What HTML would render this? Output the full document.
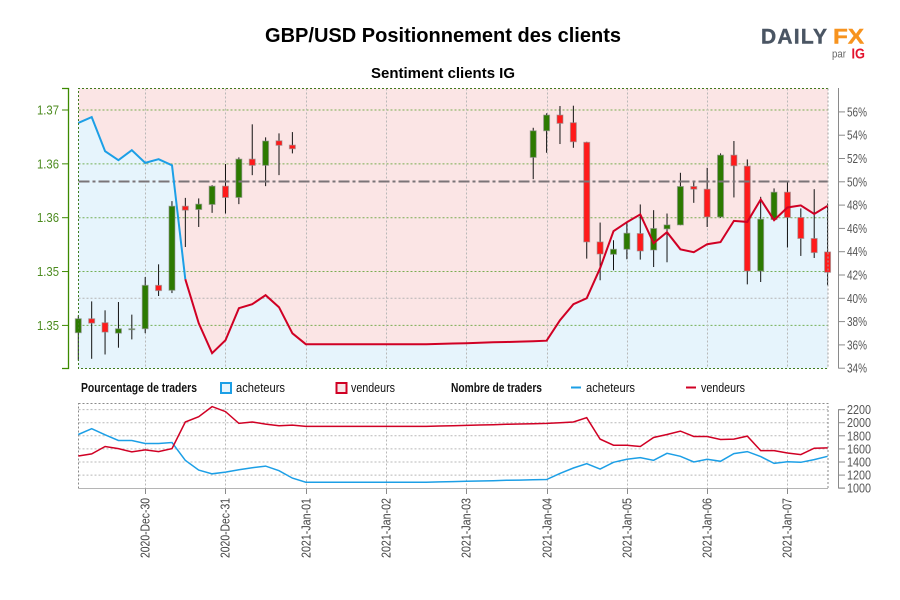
<!DOCTYPE html>
<html lang="fr">
<head>
<meta charset="utf-8">
<title>GBP/USD Positionnement des clients</title>
<style>
html,body{margin:0;padding:0;background:#fff;width:900px;height:600px;overflow:hidden}
svg{display:block}
text{font-family:"Liberation Sans",sans-serif}
</style>
</head>
<body>
<svg id="chart" xmlns="http://www.w3.org/2000/svg" width="900" height="600" viewBox="0 0 900 600">
  <rect x="0" y="0" width="900" height="600" fill="#ffffff"/>
  <text x="443" y="42" text-anchor="middle" font-size="20" font-weight="bold" fill="#000" textLength="356" lengthAdjust="spacingAndGlyphs">GBP/USD Positionnement des clients</text>
  <text x="443" y="78" text-anchor="middle" font-size="15" font-weight="bold" fill="#000" textLength="144" lengthAdjust="spacingAndGlyphs">Sentiment clients IG</text>

  <g>
    <text x="761" y="43.5" font-size="21" font-weight="bold" fill="#4a5563" stroke="#4a5563" stroke-width="0.4" textLength="66" lengthAdjust="spacing">DAILY</text>
    <text x="833" y="43.5" font-size="21" font-weight="bold" fill="#f7931e" stroke="#f7931e" stroke-width="0.4" textLength="31" lengthAdjust="spacingAndGlyphs">FX</text>
    <text x="832" y="57.5" font-size="11" fill="#666" textLength="14" lengthAdjust="spacingAndGlyphs">par</text>
    <text x="851.5" y="58.5" font-size="15" font-weight="bold" fill="#e3122d" textLength="13.5" lengthAdjust="spacingAndGlyphs">IG</text>
  </g>

  <rect x="78.5" y="88.5" width="749.5" height="280" fill="#fbe5e5"/>
  <polygon id="buyerArea" fill="#e6f4fc"/>
  <g id="gridTop"></g>
  <g id="candles"></g>
  <line x1="78.5" x2="828" y1="181.5" y2="181.5" stroke="#7a7477" stroke-width="2" stroke-dasharray="11 3 3 3"/>
  <g id="sentimentLines"></g>
  <path d="M828 88.5H78.5V368.5H828" fill="none" stroke="#3f7a1c" stroke-width="1" stroke-dasharray="2 2"/>
  <line x1="828" x2="828" y1="88.5" y2="368.5" stroke="#a0a0a0" stroke-width="1" stroke-dasharray="2 2"/>

  <g id="axisLeft">
    <path d="M62 88.5H68.5V368.5H62" fill="none" stroke="#3c8a00" stroke-width="1.3"/>
  </g>
  <g id="axisRight">
    <line x1="838.5" x2="838.5" y1="88" y2="368.5" stroke="#8a8a8a" stroke-width="1"/>
  </g>

  <g font-size="12.5" fill="#111">
    <text x="81" y="392" font-weight="bold" textLength="116" lengthAdjust="spacingAndGlyphs">Pourcentage de traders</text>
    <rect x="221" y="383" width="10" height="10" fill="#e6f4fc" stroke="#1c9fe6" stroke-width="2"/>
    <text x="236" y="392" textLength="49" lengthAdjust="spacingAndGlyphs">acheteurs</text>
    <rect x="336.5" y="383" width="10" height="10" fill="#f8e6e8" stroke="#d00024" stroke-width="2"/>
    <text x="351" y="392" textLength="44" lengthAdjust="spacingAndGlyphs">vendeurs</text>
    <text x="451" y="392" font-weight="bold" textLength="91" lengthAdjust="spacingAndGlyphs">Nombre de traders</text>
    <line x1="571" x2="581" y1="387.5" y2="387.5" stroke="#1c9fe6" stroke-width="2"/>
    <text x="586" y="392" textLength="49" lengthAdjust="spacingAndGlyphs">acheteurs</text>
    <line x1="686" x2="696" y1="387.5" y2="387.5" stroke="#d00024" stroke-width="2"/>
    <text x="701" y="392" textLength="44" lengthAdjust="spacingAndGlyphs">vendeurs</text>
  </g>

  <g id="gridBottom"></g>
  <rect x="78.5" y="403.5" width="749.5" height="85" fill="none" stroke="#8a8a8a" stroke-width="1" stroke-dasharray="2 2"/>
  <line x1="78.5" x2="828" y1="488.5" y2="488.5" stroke="#b5b5b5" stroke-width="1"/>
  <g id="countLines"></g>
  <g id="axisCount">
    <path d="M845 409.7H838.5V488H845" fill="none" stroke="#8a8a8a" stroke-width="1"/>
  </g>
  <g id="axisDate"></g>
</svg>

<script>
var dateLabels = ["2020-Dec-30","2020-Dec-31","2021-Jan-01","2021-Jan-02","2021-Jan-03","2021-Jan-04","2021-Jan-05","2021-Jan-06","2021-Jan-07"];
var priceTicks = [1.35,1.355,1.36,1.365,1.37];
var priceTickLabels = ["1.35","1.35","1.36","1.36","1.37"];
var percentTicks = [34,36,38,40,42,44,46,48,50,52,54,56];
var countTicks = [1000,1200,1400,1600,1800,2000,2200];

var sentiment = [55.06,55.55,52.63,51.85,52.71,51.62,51.94,51.42,41.64,37.86,35.29,36.40,39.15,39.49,40.27,39.24,37.00,36.06,36.06,36.06,36.06,36.06,36.06,36.06,36.06,36.06,36.06,36.09,36.12,36.15,36.18,36.22,36.25,36.28,36.32,36.36,38.12,39.49,40.00,42.58,45.76,46.53,47.20,44.73,45.67,44.21,43.96,44.64,44.82,46.64,46.56,48.48,46.70,47.79,47.97,47.24,47.93];

var buyersCount = [1820,1908,1815,1728,1728,1682,1682,1697,1426,1277,1220,1246,1282,1313,1338,1267,1154,1092,1092,1092,1092,1092,1092,1092,1092,1092,1092,1096,1101,1106,1110,1115,1120,1124,1129,1133,1226,1308,1374,1292,1395,1441,1467,1426,1533,1487,1400,1441,1410,1528,1559,1482,1379,1405,1395,1436,1487];
var sellersCount = [1492,1523,1636,1605,1554,1585,1559,1605,2010,2092,2246,2169,1990,2010,1979,1954,1964,1944,1944,1944,1944,1944,1944,1944,1944,1944,1944,1949,1954,1959,1965,1970,1975,1980,1985,1990,2000,2010,2077,1749,1656,1656,1636,1774,1820,1872,1790,1790,1744,1749,1795,1574,1574,1538,1513,1610,1615];

var candleIndex = [0,1,2,3,4,5,6,7,8,9,10,11,12,13,14,15,16,34,35,36,37,38,39,40,41,42,43,44,45,46,47,48,49,50,51,52,53,54,55,56];
var opens = [1.34932,1.35062,1.35025,1.34928,1.3496,1.34969,1.35372,1.35326,1.36107,1.36076,1.36123,1.36293,1.36188,1.36544,1.36486,1.36714,1.36674,1.3656,1.36807,1.36953,1.36882,1.367,1.35775,1.3566,1.35707,1.35853,1.357,1.35896,1.35933,1.3629,1.36265,1.36007,1.36581,1.36479,1.35505,1.35983,1.36237,1.36002,1.35807,1.35682];
var highs = [1.35093,1.35223,1.3514,1.35217,1.351,1.35449,1.35567,1.36154,1.36184,1.36179,1.36302,1.36498,1.3656,1.36867,1.36746,1.36783,1.36795,1.36835,1.36969,1.37037,1.3704,1.36705,1.35955,1.35791,1.35961,1.36123,1.3607,1.36039,1.36417,1.36342,1.36463,1.36597,1.36712,1.36541,1.36194,1.36272,1.36333,1.36086,1.36265,1.36132];
var lows = [1.34674,1.3469,1.3473,1.34793,1.3487,1.34928,1.35273,1.353,1.35728,1.35914,1.36045,1.36039,1.36126,1.36395,1.36293,1.36395,1.36597,1.36358,1.36603,1.36684,1.36649,1.3562,1.35419,1.35512,1.35614,1.35611,1.35542,1.35586,1.3593,1.36138,1.35914,1.35998,1.36188,1.35381,1.35403,1.35977,1.35723,1.35645,1.35626,1.35372];
var closes = [1.35062,1.35021,1.34938,1.34969,1.34969,1.35372,1.35323,1.36107,1.3607,1.36126,1.36293,1.36188,1.36544,1.36486,1.36712,1.36672,1.3664,1.36807,1.36953,1.36876,1.36705,1.35775,1.35663,1.35707,1.35856,1.35691,1.359,1.35933,1.3629,1.36265,1.36007,1.36581,1.36482,1.35505,1.35986,1.36237,1.36002,1.35807,1.35676,1.35493];

var NS = "http://www.w3.org/2000/svg";
function xAt(i){ return 78.3 + i * 13.38; }
function yPrice(p){ return 110 + (1.37 - p) * 10770; }
function yPercent(p){ return 368.2 - (p - 34) * 11.65; }
function yCount(v){ return 488.2 - (v - 1000) * 0.0655; }

function make(parent, tag, attrs){
  var el = document.createElementNS(NS, tag);
  for (var k in attrs) el.setAttribute(k, attrs[k]);
  parent.appendChild(el);
  return el;
}
function pts(values, yFn, from, to){
  var out = [];
  for (var i = from; i <= to; i++) out.push(xAt(i).toFixed(1) + "," + yFn(values[i]).toFixed(1));
  return out.join(" ");
}
function g(id){ return document.getElementById(id); }

/* area under the sentiment line */
var lastI = sentiment.length - 1;
g("buyerArea").setAttribute("points", xAt(0).toFixed(1) + ",368.5 " + pts(sentiment, yPercent, 0, lastI) + " " + xAt(lastI).toFixed(1) + ",368.5");

/* top panel grid */
priceTicks.forEach(function(p){
  var y = yPrice(p);
  var ln = make(g("gridTop"), "line", {x1:78.5, x2:828, y1:y, y2:y, stroke:"#4f9a1f", "stroke-width":1, "stroke-dasharray":"2 2", "stroke-opacity":0.75});
  
  
  var tk = make(g("axisLeft"), "line", {x1:62, x2:68.5, y1:y, y2:y, stroke:"#3c8a00", "stroke-width":1});
  
  
});
priceTickLabels.forEach(function(s, i){
  var t = make(g("axisLeft"), "text", {x:59, y:yPrice(priceTicks[i]) + 4.5, "text-anchor":"end", "font-size":13, fill:"#4b8a1e", textLength:22, lengthAdjust:"spacingAndGlyphs"});
  t.textContent = s;
  
  
});

var pctGrid = make(g("gridTop"), "line", {x1:78.5, x2:828, y1:yPercent(40), y2:yPercent(40), stroke:"#b4b4b4", "stroke-width":1, "stroke-dasharray":"2 2"});



percentTicks.forEach(function(p){
  var y = yPercent(p);
  var tk = make(g("axisRight"), "line", {x1:838.5, x2:845, y1:y, y2:y, stroke:"#8a8a8a", "stroke-width":1});
  
  
  var t = make(g("axisRight"), "text", {x:847, y:y + 4.5, "font-size":13, fill:"#555", textLength:20, lengthAdjust:"spacingAndGlyphs"});
  t.textContent = p + "%";
  
  
});

/* vertical date grid and axis */
dateLabels.forEach(function(s, k){
  var x = Math.round(xAt(5 + 6 * k)) + 0.5;
  var v1 = make(g("gridTop"), "line", {x1:x, x2:x, y1:88.5, y2:368.5, stroke:"#b8b8b8", "stroke-width":1, "stroke-dasharray":"2 2"});
  
  
  var v2 = make(g("gridBottom"), "line", {x1:x, x2:x, y1:403.5, y2:488.5, stroke:"#b8b8b8", "stroke-width":1, "stroke-dasharray":"2 2"});
  
  
  var tk = make(g("axisDate"), "line", {x1:x, x2:x, y1:488.5, y2:494, stroke:"#8a8a8a", "stroke-width":1});
  
  
  var t = make(g("axisDate"), "text", {transform:"translate(" + (x + 4) + ",558) rotate(-90)", "font-size":12.5, fill:"#444", textLength:60, lengthAdjust:"spacingAndGlyphs"});
  t.textContent = s;
  
  
});

/* candlesticks */
candleIndex.forEach(function(ix, n){
  var x = xAt(ix);
  var up = closes[n] >= opens[n];
  var top = yPrice(Math.max(opens[n], closes[n]));
  var bot = yPrice(Math.min(opens[n], closes[n]));
  var w = make(g("candles"), "line", {x1:x, x2:x, y1:yPrice(highs[n]), y2:yPrice(lows[n]), stroke:"#111", "stroke-width":1});
  
  
  var b = make(g("candles"), "rect", {x:x - 3, y:top, width:6, height:Math.max(bot - top, 0.8), fill: up ? "#2c7a00" : "#ff1a1a", stroke:"#8f8f8f", "stroke-opacity":0.6, "stroke-width":1});
  
  
});

/* sentiment line: blue while buyers are above 50 %, red afterwards */
var split = 0;
while (split < lastI && sentiment[split] >= 50) split++;
var sb = make(g("sentimentLines"), "polyline", {points:pts(sentiment, yPercent, 0, split), fill:"none", stroke:"#1c9fe6", "stroke-width":2});


var sr = make(g("sentimentLines"), "polyline", {points:pts(sentiment, yPercent, split, lastI), fill:"none", stroke:"#d00024", "stroke-width":2});



/* count panel */
countTicks.forEach(function(v){
  var y = yCount(v);
  if (v > 1000) {
    var ln = make(g("gridBottom"), "line", {x1:78.5, x2:828, y1:y, y2:y, stroke:"#b8b8b8", "stroke-width":1, "stroke-dasharray":"2 2"});
    
    
  }
  var tk = make(g("axisCount"), "line", {x1:838.5, x2:845, y1:y, y2:y, stroke:"#8a8a8a", "stroke-width":1});
  
  
  var t = make(g("axisCount"), "text", {x:847, y:y + 4.5, "font-size":13, fill:"#555", textLength:24, lengthAdjust:"spacingAndGlyphs"});
  t.textContent = v;
  
  
});
var cb = make(g("countLines"), "polyline", {points:pts(buyersCount, yCount, 0, buyersCount.length - 1), fill:"none", stroke:"#1c9fe6", "stroke-width":1.5});


var cs = make(g("countLines"), "polyline", {points:pts(sellersCount, yCount, 0, sellersCount.length - 1), fill:"none", stroke:"#d00024", "stroke-width":1.5});


</script>
</body>
</html>
